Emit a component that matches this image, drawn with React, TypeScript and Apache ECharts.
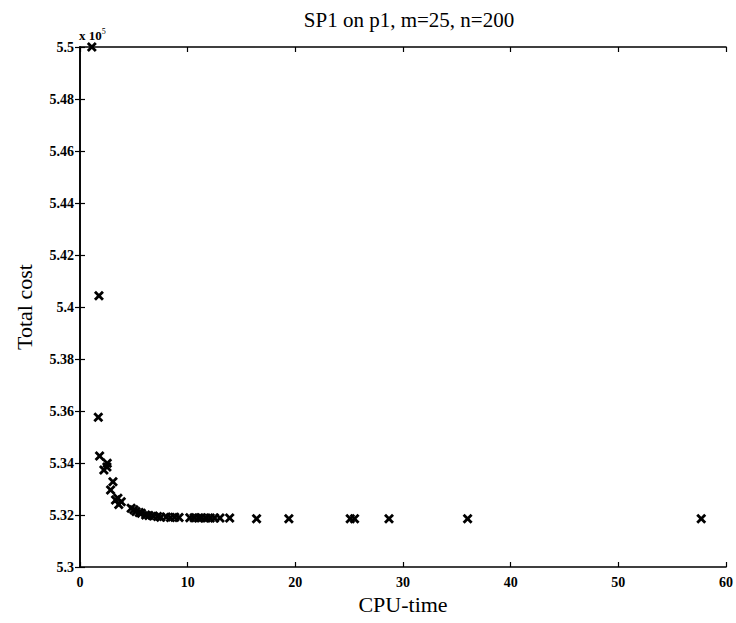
import React, { useEffect, useRef } from "react";
import * as echarts from "echarts";

const cpuTime = [1.1, 1.76, 1.7, 1.82, 2.53, 2.22, 2.5, 3.06, 2.84, 3.3, 3.52, 3.83, 3.6, 4.75, 5.0, 5.2, 5.5, 5.7, 6.1, 6.4, 6.8, 7.2, 7.5, 8.0, 8.4, 8.8, 9.2, 10.2, 10.6, 11.0, 11.3, 11.7, 12.1, 12.5, 13.0, 13.9, 16.4, 19.4, 25.1, 25.5, 28.7, 36.0, 57.7];
const totalCost = [5.5, 5.4043, 5.3576, 5.3427, 5.3399, 5.3373, 5.3385, 5.3328, 5.3296, 5.3258, 5.3264, 5.3251, 5.324, 5.3226, 5.322, 5.3213, 5.321, 5.3207, 5.32, 5.3198, 5.3196, 5.3194, 5.3191, 5.3192, 5.319, 5.3191, 5.319, 5.3189, 5.3189, 5.3188, 5.3189, 5.3188, 5.3188, 5.3188, 5.3188, 5.3188, 5.3186, 5.3186, 5.3186, 5.3186, 5.3186, 5.3186, 5.3186];
const xTicks = [0, 10, 20, 30, 40, 50, 60];
const yTicks = [5.3, 5.32, 5.34, 5.36, 5.38, 5.4, 5.42, 5.44, 5.46, 5.48, 5.5];

const SERIF = "'Liberation Serif', 'DejaVu Serif', serif";
const CROSS = "path://M0,2L2,0L5,3L8,0L10,2L7,5L10,8L8,10L5,7L2,10L0,8L3,5Z";

export default function App() {
  const ref = useRef<HTMLDivElement>(null);
  useEffect(() => {
    if (!ref.current) return;
    const chart = echarts.init(ref.current, undefined, { renderer: "svg" });
    const axisLine = { show: true, lineStyle: { color: "#000", width: 1.6 } };
    const tick = { show: true, inside: true, length: 5, lineStyle: { color: "#000", width: 1.2 } };
    chart.setOption({
      animation: false,
      backgroundColor: "#fff",
      title: {
        text: "SP1 on p1, m=25, n=200",
        left: 404,
        top: 4,
        textAlign: "center",
        textStyle: { fontFamily: SERIF, fontSize: 21, fontWeight: "normal", color: "#000" },
      },
      grid: { left: 80, right: 8, top: 47, bottom: 56, containLabel: false },
      xAxis: [
        {
          type: "value",
          min: 0,
          max: 60,
          interval: 10,
          position: "bottom",
          axisLine,
          axisTick: tick,
          splitLine: { show: false },
          axisLabel: {
            margin: 8,
            fontFamily: SERIF,
            fontSize: 14,
            fontWeight: "bold",
            color: "#000",
            formatter: (v: number) => (xTicks.includes(v) ? String(v) : ""),
          },
          name: "CPU-time",
          nameLocation: "middle",
          nameGap: 25,
          nameTextStyle: { fontFamily: SERIF, fontSize: 22, color: "#000" },
        },
        {
          type: "value",
          min: 0,
          max: 60,
          interval: 10,
          position: "top",
          axisLine,
          axisTick: tick,
          axisLabel: { show: false },
          splitLine: { show: false },
        },
      ],
      yAxis: [
        {
          type: "value",
          min: 5.3,
          max: 5.5,
          interval: 0.02,
          axisLine,
          axisTick: tick,
          splitLine: { show: false },
          axisLabel: {
            margin: 6,
            fontFamily: SERIF,
            fontSize: 14,
            fontWeight: "bold",
            color: "#000",
            formatter: (v: number) => {
              const t = yTicks.find((k) => Math.abs(k - v) < 1e-6);
              return t === undefined ? "" : String(t);
            },
          },
          name: "Total cost",
          nameLocation: "middle",
          nameGap: 45,
          nameTextStyle: { fontFamily: SERIF, fontSize: 22, color: "#000" },
        },
        {
          type: "value",
          min: 5.3,
          max: 5.5,
          interval: 0.02,
          position: "right",
          axisLine,
          axisTick: tick,
          axisLabel: { show: false },
          splitLine: { show: false },
        },
      ],
      graphic: [
        {
          type: "text",
          left: 79,
          top: 27,
          style: {
            text: "{a|x 10}{b|5}",
            rich: {
              a: { fontFamily: SERIF, fontSize: 13, fontWeight: "bold", fill: "#000" },
              b: { fontFamily: SERIF, fontSize: 8, fill: "#000", verticalAlign: "top", padding: [0, 0, 8, 0] },
            },
          },
        },
      ],
      series: [
        {
          type: "scatter",
          symbol: CROSS,
          symbolSize: 10,
          clip: false,
          itemStyle: { color: "#000", opacity: 1 },
          data: cpuTime.map((x, i) => [x, totalCost[i]]),
        },
      ],
    });
    return () => chart.dispose();
  }, []);
  return (
    <div
      ref={ref}
      style={{ position: "absolute", left: 0, top: 0, width: 736, height: 623, background: "#fff" }}
    />
  );
}
